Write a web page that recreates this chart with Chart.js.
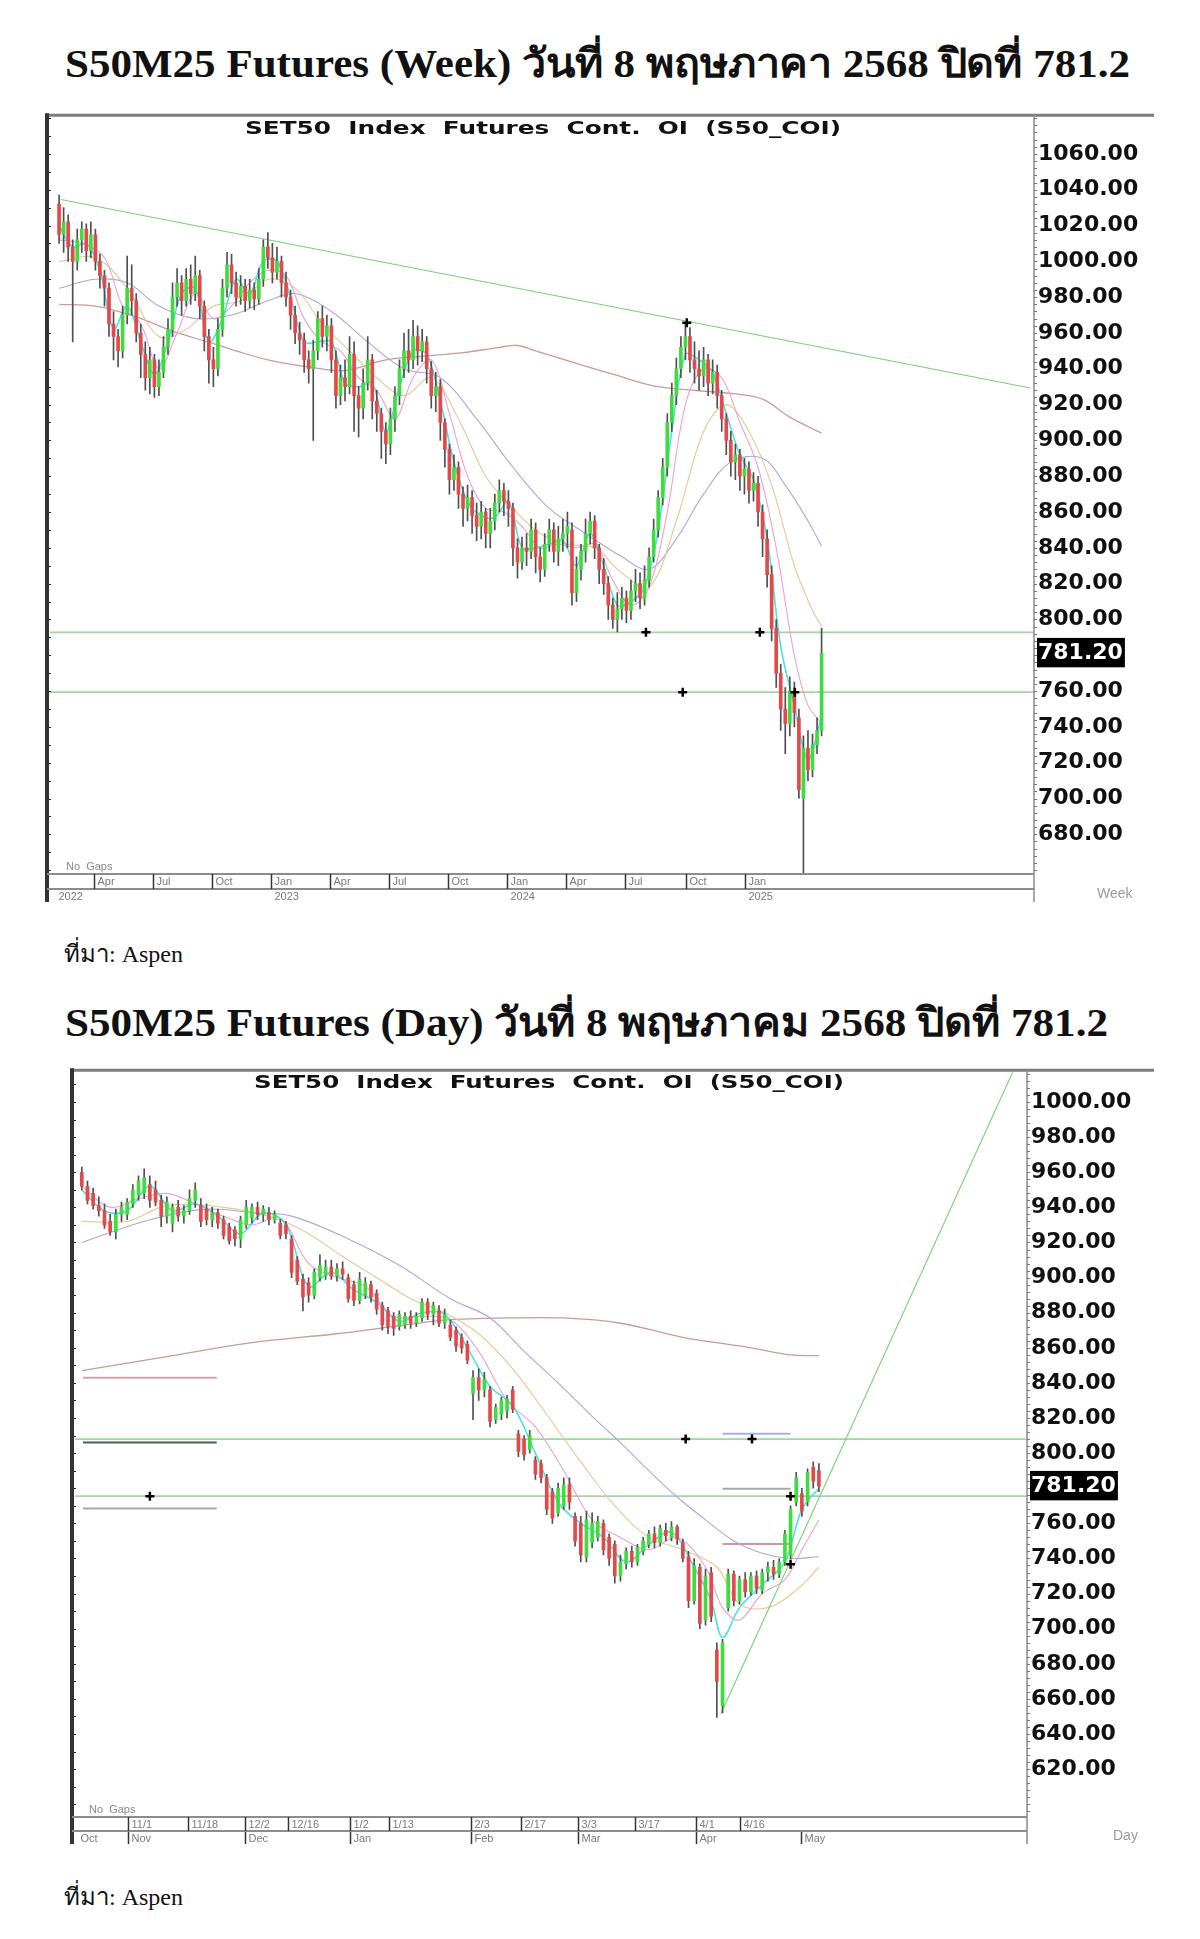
<!DOCTYPE html>
<html>
<head>
<meta charset="utf-8">
<script src="https://cdn.jsdelivr.net/npm/chart.js@4.4.1/dist/chart.umd.min.js"></script>
<style>
  html, body { margin: 0; padding: 0; background: #fff; }
  body { width: 1200px; height: 1939px; position: relative; overflow: hidden; font-family: "Liberation Serif", serif; }
  .title { position: absolute; left: 65px; font-weight: bold; font-size: 40px; line-height: 44px; white-space: nowrap; transform-origin: 0 50%; color: #111; }
  .src { position: absolute; left: 64px; font-size: 24px; line-height: 28px; white-space: nowrap; color: #111; }
  .box { position: absolute; left: 0; width: 1200px; }
</style>
</head>
<body>
<div class="title" id="t1" style="top:42px">S50M25 Futures (Week) วันที่ 8 พฤษภาคา 2568 ปิดที่ 781.2</div>
<div class="box" style="top:100px;height:810px"><canvas id="week"></canvas></div>
<div class="src" style="top:940px">ที่มา: Aspen</div>
<div class="title" id="t2" style="top:1001px">S50M25 Futures (Day) วันที่ 8 พฤษภาคม 2568 ปิดที่ 781.2</div>
<div class="box" style="top:1055px;height:800px"><canvas id="day"></canvas></div>
<div class="src" style="top:1883px">ที่มา: Aspen</div>

<script>
// last close shown in the black box on both price axes
const closePrice = 781.2;

// weekly bars, one per week from Feb 2022 to 8 May 2025: [open, high, low, close]
const weekBars = [
  [1032,1037,1010,1015],[1015,1030,1005,1022],[1022,1026,1000,1008],[1008,1012,955,1000],[1000,1018,995,1012],
  [1012,1022,1005,1018],[1018,1021,1000,1006],[1006,1022,1002,1015],[1015,1018,995,1000],[1000,1004,985,992],
  [992,995,975,985],[985,988,958,965],[965,972,945,958],[958,962,941,950],[950,975,946,970],
  [970,1003,965,985],[985,998,970,978],[978,982,955,960],[960,965,935,948],[948,955,928,935],
  [935,952,926,945],[945,948,924,930],[930,945,925,938],[938,958,935,952],[952,968,948,962],
  [962,988,958,980],[980,996,975,988],[988,992,970,978],[978,996,975,990],[990,998,976,982],
  [982,1003,978,992],[992,995,968,975],[975,978,950,958],[958,962,932,945],[945,952,930,940],
  [940,968,936,962],[962,990,958,985],[985,1005,980,998],[998,1004,982,988],[988,994,975,980],
  [980,992,976,986],[986,990,972,978],[978,990,974,984],[984,988,973,979],[979,996,976,990],
  [990,1012,986,1008],[1008,1016,996,1002],[1002,1010,988,994],[994,1008,990,1000],[1000,1003,980,988],
  [988,994,975,980],[980,984,962,970],[970,975,954,960],[960,966,948,956],[956,960,938,945],
  [945,950,932,940],[940,956,900,950],[950,972,945,968],[968,975,952,958],[958,970,950,964],
  [964,968,938,945],[945,950,918,925],[925,942,920,935],[935,945,922,930],[930,958,926,948],
  [948,955,905,925],[925,930,902,918],[918,940,912,932],[932,958,928,945],[945,948,912,922],
  [922,928,905,915],[915,918,890,905],[905,910,887,898],[898,918,892,912],[912,930,905,925],
  [925,945,920,940],[940,960,935,950],[950,962,938,945],[945,967,940,958],[958,964,942,950],
  [950,962,944,955],[955,958,932,940],[940,944,918,925],[925,938,916,930],[930,934,900,910],
  [910,912,885,895],[895,898,870,878],[878,892,872,885],[885,888,862,870],[870,874,852,862],
  [862,875,855,868],[868,872,848,858],[858,865,844,852],[852,866,845,860],[860,862,840,848],
  [848,862,840,855],[855,870,850,865],[865,878,860,872],[872,876,858,866],[866,872,852,862],
  [862,865,830,840],[840,845,823,832],[832,846,828,840],[840,848,830,838],[838,856,834,850],
  [850,854,826,835],[835,840,821,828],[828,848,824,842],[842,856,838,850],[850,854,832,838],
  [838,852,830,845],[845,856,838,848],[848,860,840,852],[850,854,808,815],[815,835,810,828],
  [828,842,822,838],[838,856,832,848],[848,860,842,855],[855,858,834,840],[840,842,820,828],
  [828,834,814,820],[820,824,800,808],[808,812,795,800],[800,815,793,806],[806,818,800,812],
  [812,816,798,805],[805,822,800,816],[816,828,810,820],[820,826,806,812],[812,830,808,822],
  [822,840,818,835],[835,856,832,850],[850,872,846,868],[868,890,864,885],[885,915,880,910],
  [910,932,905,925],[925,946,920,940],[940,958,935,952],[952,966,945,958],[958,963,938,945],
  [945,955,932,940],[940,950,928,936],[936,952,930,945],[945,948,925,932],[932,945,926,938],
  [938,942,918,925],[925,928,905,912],[912,915,892,900],[900,905,880,888],[888,898,878,892],
  [892,895,872,880],[880,890,870,884],[884,888,865,872],[872,882,866,876],[876,880,852,860],
  [860,864,835,845],[845,850,818,825],[825,830,788,795],[795,800,762,770],[770,775,738,750],
  [750,762,725,742],[742,768,735,760],[760,765,740,748],[745,750,700,705],[700,735,649,728],
  [728,738,710,716],[716,736,712,730],[730,745,725,738],[738,795,735,781.2]
];

// weekly moving averages: [week index, value]
const weekMaFast = [[0,1020],[3,1008],[6,1010],[9,995],[12,962],[15,975],[18,955],[21,937],[24,955],[27,982],[30,985],[33,955],[36,968],[39,990],[42,982],[45,1000],[48,1000],[51,980],[54,955],[57,955],[60,955],[63,932],[66,930],[69,932],[72,905],[75,930],[78,950],[81,948],[84,922],[87,888],[90,866],[93,858],[96,857],[99,866],[102,840],[105,840],[108,842],[111,844],[114,830],[117,848],[120,830],[123,808],[126,810],[129,818],[132,850],[135,905],[138,948],[141,945],[144,938],[147,915],[150,892],[153,878],[156,845],[159,785],[162,752],[165,722],[168,745]];
const weekMa10 = [[0,1012],[5,1010],[10,1002],[14,975],[18,965],[22,940],[26,960],[30,982],[34,968],[38,975],[42,988],[46,995],[50,992],[54,968],[58,955],[62,950],[66,935],[70,928],[74,912],[78,935],[82,945],[86,915],[90,880],[94,862],[98,860],[102,852],[106,840],[110,842],[114,840],[118,842],[122,822],[126,808],[130,818],[134,860],[138,920],[142,940],[146,935],[150,910],[154,885],[158,840],[162,780],[165,752],[168,742]];
const weekMa25 = [[0,1000],[8,1002],[15,985],[22,958],[28,962],[34,975],[40,978],[46,990],[52,985],[58,965],[64,950],[70,935],[76,925],[82,935],[88,912],[94,880],[100,862],[106,848],[112,842],[118,840],[124,826],[130,818],[136,855],[142,905],[147,920],[152,905],[157,875],[162,830],[166,805],[168,796]];
const weekMa50 = [[0,985],[8,990],[15,988],[22,975],[30,968],[38,970],[46,978],[52,982],[60,972],[68,955],[76,940],[84,935],[92,912],[100,885],[108,862],[116,848],[124,835],[130,828],[136,845],[142,870],[148,888],[155,890],[160,875],[165,855],[168,841]];
const weekMaLong = [[0,976],[8,975],[17,969],[25,961],[34,954],[39,950],[46,945],[55,941],[63,939],[72,945],[80,947],[89,949],[97,952],[101,953],[105,950],[114,943],[122,937],[132,930],[149,926],[155,923],[161,913],[168,904]];

// drawn studies on the weekly chart
const weekTrend = [[0.4,1034.5],[214,929.3]];
const weekLevels = [792.8, 759.4];
const weekMarks = [[129.3,792.8],[154.4,792.8],[137.4,759.4],[162.1,759.4],[138.3,965.7]];

// weekly axis labels
const weekTicks = [680,700,720,740,760,781.2,800,820,840,860,880,900,920,940,960,980,1000,1020,1040,1060];
const weekTickPos = [7.7,20.7,33.7,46.7,59.7,72.7,85.7,98.7,111.7,124.7,138.1,151.1];
const weekTickLabels = ['Apr','Jul','Oct','Jan','Apr','Jul','Oct','Jan','Apr','Jul','Oct','Jan'];
const weekYearPos = [-1,46.7,98.7,151.1];
const weekYearLabels = ['2022','2023','2024','2025'];

// daily bars, late Oct 2024 to 8 May 2025: [open, high, low, close]
const dayBars = [
  [960,963,950,952],[952,955,942,944],[948,951,939,941],[941,946,935,938],[938,942,928,930],
  [932,936,924,926],[926,939,922,936],[936,943,932,940],[936,945,933,943],[942,953,940,950],
  [947,958,944,955],[948,962,945,957],[953,958,940,944],[950,955,941,943],[944,947,929,935],
  [935,946,931,943],[931,942,926,940],[940,944,932,935],[935,941,931,938],[938,950,936,945],
  [944,954,940,950],[941,945,929,932],[939,942,930,933],[933,940,929,937],[937,939,928,931],
  [933,935,922,924],[929,931,919,921],[927,929,918,922],[922,935,917,933],[930,944,928,940],
  [934,942,931,940],[940,943,933,936],[936,941,932,939],[937,940,930,933],[933,938,931,936],
  [931,933,922,924],[930,932,922,925],[922,924,900,903],[910,912,896,898],[899,902,881,889],
  [897,900,886,890],[890,905,888,903],[900,913,898,907],[901,910,899,906],[906,910,899,901],
  [901,908,898,905],[905,909,899,902],[900,902,886,888],[896,898,884,887],[887,903,885,899],
  [890,900,888,897],[896,898,886,889],[891,893,879,882],[884,886,870,873],[881,883,868,872],
  [878,880,867,871],[872,881,870,879],[873,880,871,878],[878,881,871,874],[874,880,872,878],
  [877,888,875,886],[886,888,876,879],[879,886,873,884],[881,884,872,874],[874,882,871,879],
  [873,876,864,866],[870,872,858,861],[866,868,857,860],[862,864,851,853],[834,847,819,843],
  [843,848,830,836],[836,846,832,842],[836,838,815,818],[819,828,817,826],[822,832,819,830],
  [824,833,820,831],[836,838,823,825],[811,813,798,801],[808,810,796,799],[802,813,800,810],
  [796,798,785,788],[794,796,783,786],[786,788,765,768],[778,780,760,763],[766,783,764,780],
  [770,786,768,782],[782,786,768,772],[764,766,747,750],[760,764,738,742],[741,767,738,762],
  [749,766,746,760],[752,764,750,761],[760,762,742,745],[752,754,736,740],[748,750,726,730],
  [730,742,727,738],[737,746,734,744],[744,747,735,738],[738,748,736,746],[744,752,742,750],
  [748,756,746,754],[754,758,746,749],[749,759,747,757],[756,760,750,753],[752,761,750,758],
  [758,759,748,751],[749,751,738,740],[741,744,712,716],[716,740,714,736],[735,737,700,703],
  [705,734,702,730],[732,735,704,707],[688,692,649.5,670],[656,694,652,692],[712,734,710,731],
  [731,733,713,716],[716,730,714,728],[728,732,718,721],[721,732,719,730],[730,733,720,723],
  [722,734,720,732],[732,738,727,735],[735,739,728,731],[731,740,729,738],[738,756,736,754],
  [742,770,740,768],[772,789,770,786],[777,780,764,767],[772,791,770,789],[792,795,780,784],
  [790,794,778,781.2]
];

// daily moving averages: [day index, value]
const dayMaFast = [[0,950],[4,938],[8,938],[12,952],[16,938],[20,942],[24,935],[28,925],[32,937],[36,930],[40,895],[44,903],[48,893],[52,886],[56,875],[60,880],[64,879],[68,860],[72,838],[76,827],[80,800],[84,772],[88,760],[92,752],[96,738],[100,748],[104,755],[108,735],[111,716],[113,695],[116,712],[120,725],[124,738],[127,768],[130,780]];
const dayMa10 = [[0,952],[5,940],[10,945],[15,948],[20,942],[25,935],[30,930],[35,934],[40,908],[45,900],[50,895],[55,878],[60,878],[65,876],[70,858],[75,830],[80,815],[85,790],[90,762],[95,752],[100,745],[105,752],[110,735],[113,712],[116,705],[120,720],[124,728],[127,745],[130,762]];
const dayMa25 = [[0,932],[8,932],[15,941],[25,940],[34,934],[40,925],[46,912],[52,900],[58,888],[64,880],[70,868],[76,848],[82,822],[88,795],[94,770],[100,752],[106,745],[112,735],[116,714],[121,712],[126,722],[130,735]];
const dayMa50 = [[0,920],[12,933],[22,939],[30,937],[37,935],[47,922],[56,907],[65,888],[72,877],[78,858],[84,840],[90,821],[95,806],[100,790],[105,775],[110,762],[115,750],[120,743],[125,740],[130,741]];
const dayMaLong = [[0,847],[15,855],[30,863],[45,868],[57,873],[65,876],[75,877],[85,877],[95,874],[106,866],[118,860],[125,856],[130,855.5]];

// drawn studies on the daily chart
const dayTrend = [[112.7,651.4],[166,1030]];
const dayLevels = [808, 775.5];
const daySegsLeft = [[0.2,23.8,843],[0.2,23.8,806],[0.2,23.8,768.5]];
const daySegsRight = [[113,125,811],[113,125,779.7],[113,125,748.2]];
const dayMarks = [[12,775.5],[106.5,808],[118.2,808],[125,775.5],[125,736.7]];

// daily axis labels
const dayTicks = [620,640,660,680,700,720,740,760,781.2,800,820,840,860,880,900,920,940,960,980,1000];
const dayTickPos = [8.1,18.8,28.7,36.4,47.3,54.1,68.7,77.4,87.5,97.6,108.3,116.0];
const dayTickLabels = ['11/1','11/18','12/2','12/16','1/2','1/13','2/3','2/17','3/3','3/17','4/1','4/16'];
const dayMonthPos = [-0.8,8.1,28.7,47.3,68.7,87.5,108.3,126.8];
const dayMonthLabels = ['Oct','Nov','Dec','Jan','Feb','Mar','Apr','May'];

const UP = '#3fdc3f', DOWN = '#e5484a', WICK = '#505050';

// frame, date band and captions in the Aspen style
const aspenFrame = {
  id: 'aspenFrame',
  afterDraw(chart, args, o) {
    const { ctx, chartArea: a, scales: { x, y } } = chart;
    const ln = (x1, y1, x2, y2) => { ctx.beginPath(); ctx.moveTo(x1, y1); ctx.lineTo(x2, y2); ctx.stroke(); };
    const L = a.left - 3;
    const mid = a.bottom + o.bandH;
    const bottom = mid + o.row2H;
    ctx.save();

    // top border, left border, price axis line
    ctx.strokeStyle = '#7d7d7d'; ctx.lineWidth = 3;
    ln(L - 2, a.top - 2, o.topRight, a.top - 2);
    ctx.strokeStyle = '#333'; ctx.lineWidth = 4;
    ln(L, a.top - 4, L, bottom);
    ctx.strokeStyle = '#8a8a8a'; ctx.lineWidth = 1.5;
    ln(a.right, a.top - 3, a.right, bottom);

    // small ticks on both edges
    ctx.lineWidth = 1; ctx.strokeStyle = '#777';
    for (let v = Math.ceil(y.min / 4) * 4; v <= y.max; v += 4) {
      const py = Math.round(y.getPixelForValue(v)) + 0.5;
      ln(a.right, py, a.right + 3, py);
    }
    ctx.strokeStyle = '#222';
    for (let v = Math.ceil(y.min / 10) * 10; v <= y.max; v += 10) {
      const py = Math.round(y.getPixelForValue(v)) + 0.5;
      ln(L + 2, py, L + 4, py);
    }

    // date band
    ctx.strokeStyle = '#8c8c8c'; ctx.lineWidth = 2;
    ln(L, a.bottom + 1, a.right, a.bottom + 1);
    ln(L, mid, a.right, mid);
    ctx.font = '11px "Liberation Sans"';
    ctx.fillStyle = '#7a7a7a';
    ctx.textBaseline = 'middle';
    ctx.textAlign = 'left';
    ctx.strokeStyle = '#333'; ctx.lineWidth = 1.5;
    o.ticks.forEach((t, i) => {
      const px = Math.round(x.getPixelForValue(t)) + 0.5;
      ln(px, a.bottom + 1, px, mid);
      ctx.fillText(o.tickLabels[i], px + 3, a.bottom + o.bandH / 2 + 1);
    });
    ctx.save();
    ctx.beginPath(); ctx.rect(L, mid + 1, a.right - L, o.row2H - 1); ctx.clip();
    o.row2.forEach((t, i) => {
      const px = Math.round(x.getPixelForValue(t)) + 0.5;
      if (o.row2Sep && i > 0) ln(px, mid, px, bottom);
      ctx.fillText(o.row2Labels[i], px + 3, mid + 8);
    });
    ctx.restore();

    // captions
    ctx.fillStyle = '#8a8a8a';
    ctx.font = '11px "Liberation Sans"';
    ctx.fillText('No  Gaps', a.left + o.noGapsDx, a.bottom - 6);
    ctx.fillStyle = '#9a9a9a';
    ctx.font = '14px "Liberation Sans"';
    ctx.fillText(o.period, o.periodX, a.bottom + o.periodDy);

    // chart heading, stretched to the width it has in the picture
    const head = 'SET50  Index  Futures  Cont.  OI  (S50_COI)';
    ctx.fillStyle = '#111';
    ctx.font = 'bold 18px "DejaVu Sans"';
    ctx.textAlign = 'center';
    const k = o.titleW / ctx.measureText(head).width;
    ctx.translate(o.titleX, a.top + o.titleDy);
    ctx.scale(k, 1);
    ctx.fillText(head, 0, 0);
    ctx.restore();
  }
};

const toXY = (pairs) => pairs.map(p => ({ x: p[0], y: p[1] }));

function buildChart(id, bars, mas, extra, axis) {
  const wicks = bars.map((b, i) => ({ x: i, y: [b[2], b[1]] }));
  const bodies = bars.map((b, i) => ({ x: i, y: [b[0], b[3]] }));
  const bodyColor = bars.map(b => b[3] >= b[0] ? UP : DOWN);
  const maColors = ['#4fe0e0', '#eba2cc', '#e9c78f', '#aaa8da', '#cc9a9a'];
  const maWidths = [1.6, 1.1, 1.1, 1.1, 1.3];

  const datasets = [];
  extra.levels.forEach(v => datasets.push({
    type: 'line', data: [{ x: axis.xMin, y: v }, { x: axis.xMax, y: v }],
    borderColor: '#9fd89f', borderWidth: 1.6, pointRadius: 0, order: 9
  }));
  (extra.segs || []).forEach((s, i) => datasets.push({
    type: 'line', data: [{ x: s[0], y: s[2] }, { x: s[1], y: s[2] }],
    borderColor: extra.segColors[i], borderWidth: 2, pointRadius: 0, order: 8
  }));
  mas.forEach((m, i) => datasets.push({
    type: 'line', data: toXY(m), borderColor: maColors[i], borderWidth: maWidths[i],
    pointRadius: 0, tension: 0.35, order: 5
  }));
  datasets.push({
    type: 'line', data: toXY(extra.trend), borderColor: '#74d474', borderWidth: 1.1,
    pointRadius: 0, order: 4
  });
  datasets.push({
    type: 'bar', data: wicks, backgroundColor: WICK, barThickness: 1, grouped: false, order: 3
  });
  datasets.push({
    type: 'bar', data: bodies, backgroundColor: bodyColor, barThickness: axis.body,
    minBarLength: 1, grouped: false, order: 2
  });
  datasets.push({
    type: 'line', data: toXY(extra.marks), showLine: false, pointStyle: 'cross',
    pointRadius: 4.5, borderColor: '#000', borderWidth: 2.5, order: 1
  });

  return new Chart(document.getElementById(id), {
    type: 'bar',
    data: { datasets },
    options: {
      responsive: true,
      maintainAspectRatio: false,
      animation: false,
      events: [],
      layout: { padding: axis.padding },
      plugins: {
        legend: { display: false },
        tooltip: { enabled: false },
        aspenFrame: axis.frame
      },
      scales: {
        x: { type: 'linear', min: axis.xMin, max: axis.xMax, offset: false, display: false },
        y: {
          position: 'right',
          min: axis.yMin,
          max: axis.yMax,
          grid: { display: false, drawTicks: false },
          border: { display: false },
          afterBuildTicks: (s) => { s.ticks = axis.ticks.map(v => ({ value: v })); },
          afterFit: (s) => { s.width = axis.axisW; },
          ticks: {
            padding: 4,
            font: { family: 'DejaVu Sans', weight: 'bold', size: 22 },
            color: (c) => c.tick && c.tick.value === closePrice ? '#fff' : '#111',
            showLabelBackdrop: (c) => !!(c.tick && c.tick.value === closePrice),
            backdropColor: '#000',
            backdropPadding: { top: 2, bottom: 1, left: 1, right: 2 },
            callback: (v) => Number(v).toFixed(2)
          }
        }
      }
    },
    plugins: [aspenFrame]
  });
}

buildChart('week', weekBars,
  [weekMaFast, weekMa10, weekMa25, weekMa50, weekMaLong],
  { levels: weekLevels, trend: weekTrend, marks: weekMarks },
  {
    xMin: -2, xMax: 214.8, yMin: 658.4, yMax: 1080.5, body: 3,
    padding: { left: 50, top: 12, bottom: 37, right: 0 }, axisW: 166,
    ticks: weekTicks,
    frame: {
      topRight: 1154, bandH: 16, row2H: 13, row2Sep: false,
      ticks: weekTickPos, tickLabels: weekTickLabels,
      row2: weekYearPos, row2Labels: weekYearLabels,
      noGapsDx: 16, period: 'Week', periodX: 1097, periodDy: 21,
      titleX: 543, titleDy: 12, titleW: 596
    }
  });

buildChart('day', dayBars,
  [dayMaFast, dayMa10, dayMa25, dayMa50, dayMaLong],
  {
    levels: dayLevels, trend: dayTrend, marks: dayMarks,
    segs: daySegsLeft.concat(daySegsRight),
    segColors: ['#d6a3a3', '#4f5f52', '#a4a4b8', '#a9b1e2', '#a6a6a6', '#d89595']
  },
  {
    xMin: -1.2, xMax: 166.7, yMin: 593.3, yMax: 1017, body: 3,
    padding: { left: 75, top: 11, bottom: 39, right: 0 }, axisW: 173,
    ticks: dayTicks,
    frame: {
      topRight: 1154, bandH: 15, row2H: 13, row2Sep: true,
      ticks: dayTickPos, tickLabels: dayTickLabels,
      row2: dayMonthPos, row2Labels: dayMonthLabels,
      noGapsDx: 14, period: 'Day', periodX: 1113, periodDy: 20,
      titleX: 549, titleDy: 11, titleW: 590
    }
  });

// stretch the headings to the width they take in the picture
function fitTitle(id, w) {
  const el = document.getElementById(id);
  const k = w / el.getBoundingClientRect().width;
  el.style.transform = 'scaleX(' + k + ')';
}
fitTitle('t1', 1065);
fitTitle('t2', 1043);
</script>
</body>
</html>
